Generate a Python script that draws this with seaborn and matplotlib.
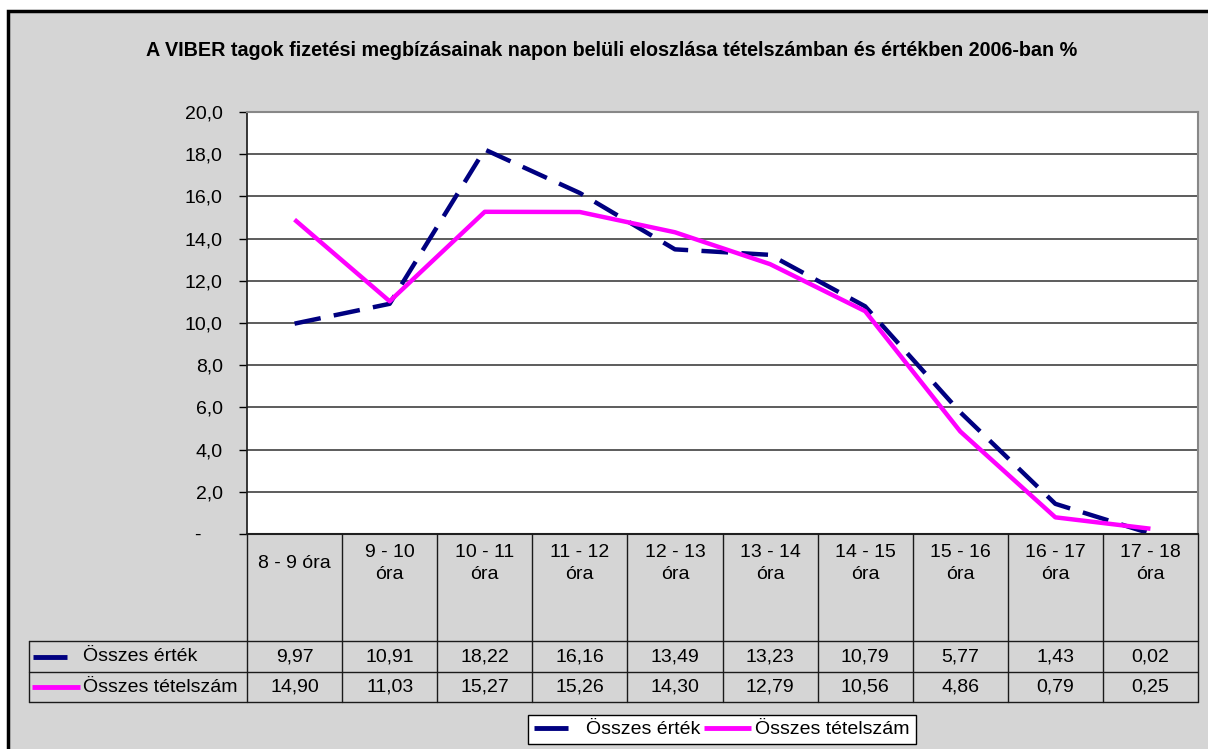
import pandas as pd
import matplotlib.pyplot as plt
import seaborn as sns
from matplotlib.patches import Rectangle
from matplotlib.lines import Line2D

# data
hours = ['8 - 9 óra', '9 - 10\nóra', '10 - 11\nóra', '11 - 12\nóra', '12 - 13\nóra',
         '13 - 14\nóra', '14 - 15\nóra', '15 - 16\nóra', '16 - 17\nóra', '17 - 18\nóra']
osszes_ertek = [9.97, 10.91, 18.22, 16.16, 13.49, 13.23, 10.79, 5.77, 1.43, 0.02]
osszes_tetelszam = [14.90, 11.03, 15.27, 15.26, 14.30, 12.79, 10.56, 4.86, 0.79, 0.25]
series_names = ['Összes érték', 'Összes tételszám']
series_colors = {'Összes érték': '#000080', 'Összes tételszám': '#FF00FF'}
title = 'A VIBER tagok fizetési megbízásainak napon belüli eloszlása tételszámban és értékben 2006-ban %'

sns.set_theme(style="white")
plt.rcParams['font.family'] = ['Liberation Sans', 'DejaVu Sans']
plt.rcParams['text.color'] = 'black'
plt.rcParams['ytick.color'] = 'black'

FS = 14

df = pd.DataFrame({
    'ora': hours * 2,
    'ertek': osszes_ertek + osszes_tetelszam,
    'sorozat': [series_names[0]] * len(hours) + [series_names[1]] * len(hours),
})

W, H = 1208, 749
fig = plt.figure(figsize=(W / 100, H / 100), dpi=100, facecolor='white')

def fx(px):
    return px / W

def fy(py):
    return 1 - py / H

# outer frame and grey chart area
bg = Rectangle((fx(8), fy(760)), fx(1220) - fx(8), fy(11) - fy(760),
               transform=fig.transFigure, facecolor='#d5d5d5',
               edgecolor='black', lw=2.5, zorder=-10)
fig.patches.append(bg)

fig.text(fx(612), fy(51), title, ha='center', va='center', fontsize=14.2, fontweight='bold')

# plot area
left, right, top, bottom = 247, 1198, 112, 534
ax = fig.add_axes([fx(left), fy(bottom), fx(right) - fx(left), fy(top) - fy(bottom)])
ax.set_facecolor('white')

sns.lineplot(data=df, x='ora', y='ertek', hue='sorozat', style='sorozat',
             palette=series_colors, dashes={'Összes érték': (6, 3), 'Összes tételszám': ''},
             linewidth=3.2, legend=False, ax=ax, sort=False)
for line in ax.get_lines():
    line.set_solid_capstyle('butt')
    line.set_dash_capstyle('butt')

ax.set_xlim(-0.5, len(hours) - 0.5)
ax.set_ylim(0, 20)
yt = list(range(0, 21, 2))
ax.set_yticks(yt)
ax.set_yticklabels(['-    ' if v == 0 else f'{v:.1f}'.replace('.', ',') for v in yt], fontsize=FS)
ax.tick_params(axis='y', length=6, width=1, color='black', pad=11.5, left=True)
ax.tick_params(axis='x', length=0, labelbottom=False)
ax.set_xlabel('')
ax.set_ylabel('')
ax.yaxis.grid(True, color='#303030', lw=1.1)
ax.xaxis.grid(False)
for side in ['top', 'right']:
    ax.spines[side].set_color('#888888')
    ax.spines[side].set_linewidth(1.5)
ax.spines['left'].set_color('#202020')
ax.spines['bottom'].set_color('#202020')
ax.spines['bottom'].set_linewidth(1.5)

# data table below the plot
tab_left = 29
col_w = (right - left) / len(hours)
x0 = -0.5 - (left - tab_left) / col_w
axt = fig.add_axes([fx(tab_left), fy(702), fx(right) - fx(tab_left), fy(534) - fy(702)])
axt.set_xlim(x0, len(hours) - 0.5)
axt.set_ylim(702, 534)
axt.axis('off')

def px2x(px):
    return x0 + (px - tab_left) / col_w

lc = '#1a1a1a'
for i in range(len(hours) + 1):
    axt.plot([i - 0.5, i - 0.5], [534, 702], color=lc, lw=1, clip_on=False)
for yy in [641, 672, 702]:
    axt.plot([x0, len(hours) - 0.5], [yy, yy], color=lc, lw=1, clip_on=False)
axt.plot([x0, x0], [641, 702], color=lc, lw=1, clip_on=False)

for i, h in enumerate(hours):
    axt.text(i, 563.5, h, ha='center', va='center', fontsize=FS, multialignment='center',
             linespacing=1.4)
    axt.text(i, 656.5, f'{osszes_ertek[i]:.2f}'.replace('.', ','), ha='center', va='center', fontsize=FS)
    axt.text(i, 687, f'{osszes_tetelszam[i]:.2f}'.replace('.', ','), ha='center', va='center', fontsize=FS)

axt.plot([px2x(33), px2x(67)], [656.5, 656.5], color=series_colors[series_names[0]], lw=3.5,
         linestyle='-', solid_capstyle='butt')
axt.plot([px2x(32), px2x(80)], [687, 687], color=series_colors[series_names[1]], lw=3.5,
         linestyle='-', solid_capstyle='butt')
axt.text(px2x(83), 656.5, series_names[0], ha='left', va='center', fontsize=FS)
axt.text(px2x(83), 687, series_names[1], ha='left', va='center', fontsize=FS)

# legend
handles = [Line2D([0], [0], color=series_colors[series_names[0]], lw=3.5, dashes=(7, 5),
                  dash_capstyle='butt'),
           Line2D([0], [0], color=series_colors[series_names[1]], lw=3.5, solid_capstyle='butt')]
leg = fig.legend(handles, series_names, loc='center', bbox_to_anchor=(fx(722), fy(729.5)),
                 ncol=2, fontsize=FS, frameon=True, fancybox=False, edgecolor='black',
                 handlelength=2.4, handletextpad=0.25, columnspacing=0.2, borderpad=0.3,
                 borderaxespad=0)
leg.get_frame().set_facecolor('white')
leg.get_frame().set_linewidth(1)
leg.get_frame().set_alpha(1)

fig.savefig('out.png', dpi=100, facecolor=fig.get_facecolor())
